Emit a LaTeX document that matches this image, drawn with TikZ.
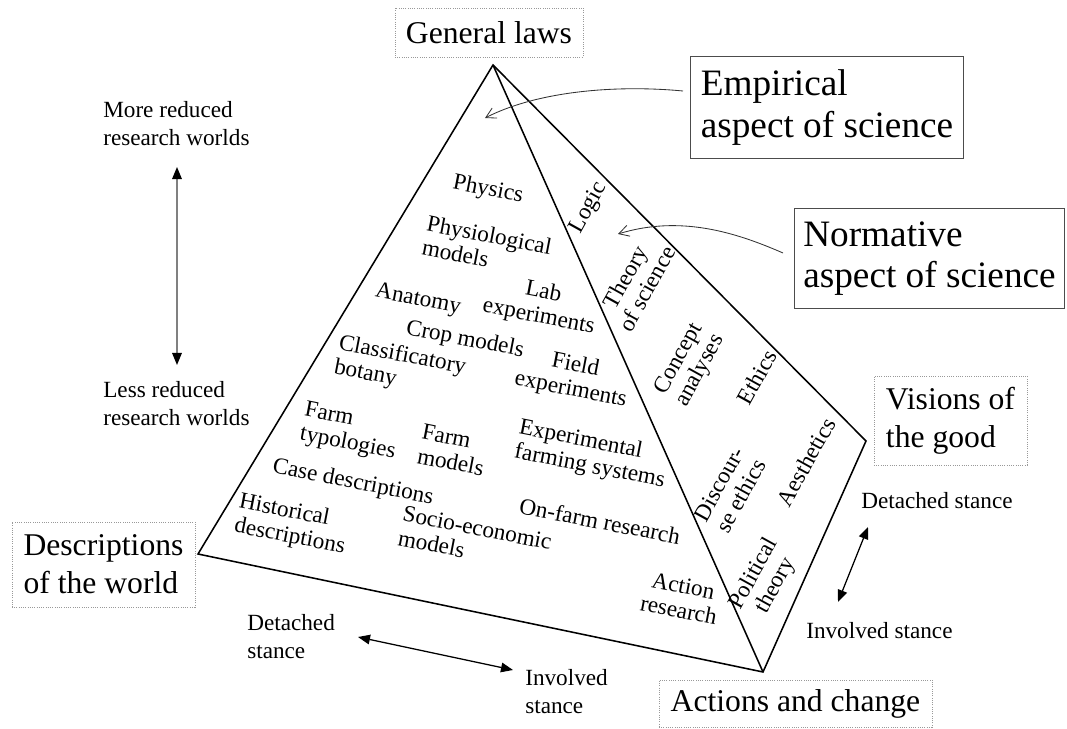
\documentclass[tikz,border=0pt]{standalone}
\usepackage{fontspec}
\setmainfont{Liberation Serif}
\usepackage{tikz}
\usetikzlibrary{arrows.meta,positioning,calc}
\tikzset{
    edge/.style={line width=1.1pt, line join=miter},
    corner/.style={draw=gray!80, densely dotted, line width=0.6pt, inner sep=0pt, align=left, font=\fontsize{22.5}{27}\selectfont},
    aspect/.style={draw=gray!60!black, line width=0.7pt, inner sep=0pt, align=left, font=\fontsize{26.5}{29.5}\selectfont},
    field/.style={rotate=-11, align=left, inner sep=0pt, font=\fontsize{16.5}{17.5}\selectfont},
    norm/.style={rotate=61, align=center, inner sep=0pt, font=\fontsize{16.5}{17.5}\selectfont},
    side/.style={align=left, inner sep=0pt, font=\fontsize{16.5}{20}\selectfont},
    stance/.style={{Triangle[length=3mm,width=2.4mm,color=black]}-{Triangle[length=3mm,width=2.4mm,color=black]}, line width=0.9pt},
    hint/.style={-{Straight Barb[length=2.5mm,width=2.8mm]}, gray!40!black, line width=0.6pt}
}

\begin{document}
\begin{tikzpicture}[x=0.025cm, y=-0.025cm]
    \useasboundingbox (0,0) rectangle (1067,729);

    % corners of the pyramid
    \coordinate (top) at (493,65);
    \coordinate (lft) at (198,554);
    \coordinate (front) at (763,672);
    \coordinate (rgt) at (866,441);
    \draw[edge] (lft) -- (top) -- (rgt) -- (front) -- cycle;
    \draw[edge] (top) -- (front);

    % the four poles
    \node[corner, minimum width=4.7cm, minimum height=1.225cm, align=center] (laws) at (489,32.5) {General laws};
    \node[corner, minimum width=4.575cm, minimum height=2.125cm] (world) at (103.5,564.5) {Descriptions\\of the world};
    \node[corner, minimum width=6.825cm, minimum height=1.175cm, align=center] (change) at (795.5,703.5) {Actions and change};
    \node[corner, minimum width=3.825cm, minimum height=2.225cm] (good) at (950.5,420.5) {Visions of\\the good};

    % the two aspects
    \node[aspect, minimum width=6.8cm, minimum height=2.525cm] (emp) at (827,107.5) {Empirical\\aspect of science};
    \node[aspect, minimum width=6.725cm, minimum height=2.475cm] (nor) at (929.5,258.5) {Normative\\aspect of science};
    \coordinate (emp1) at (683,91);
    \coordinate (emp2) at (485,118);
    \coordinate (nor1) at (783,253);
    \coordinate (nor2) at (618,234);
    \draw[hint] (emp1) .. controls (620,85) and (540,90) .. (emp2);
    \draw[hint] (nor1) .. controls (735,232) and (680,215) .. (nor2);

    % empirical face
    \node[field] (phys) at (488,190) {Physics};
    \node[field] (physio) at (487,247) {Physiological\\models};
    \node[field] (anat) at (418,300) {Anatomy};
    \node[field, align=center] (lab) at (541,305) {Lab\\experiments};
    \node[field] (crop) at (465,340) {Crop models};
    \node[field, align=center] (fieldexp) at (573,378) {Field\\experiments};
    \node[field] (botany) at (400,368) {Classificatory\\botany};
    \node[field] (typo) at (350,432) {Farm\\typologies};
    \node[field] (farmmod) at (453,450) {Farm\\models};
    \node[field] (expfarm) at (592,455) {Experimental\\farming systems};
    \node[field] (case) at (353,483) {Case descriptions};
    \node[field] (hist) at (292,525) {Historical\\descriptions};
    \node[field] (socio) at (475,540) {Socio-economic\\models};
    \node[field] (onfarm) at (600,521) {On-farm research};
    \node[field, align=center] (action) at (681,598) {Action\\research};

    % normative face
    \node[norm] (logic) at (589,208) {Logic};
    \node[norm] (theory) at (636,283) {Theory\\of science};
    \node[norm] (concept) at (690,365) {Concept\\analyses};
    \node[norm] (ethics) at (757,377) {Ethics};
    \node[norm] (discourse) at (730,490) {Discour-\\se ethics};
    \node[norm] (aesth) at (806,462) {Aesthetics};
    \node[norm] (polit) at (765,580) {Political\\theory};

    % scales
    \node[side, anchor=north west] (more) at (103,101) {More reduced\\research worlds};
    \node[side, anchor=north west] (less) at (103,381) {Less reduced\\research worlds};
    \coordinate (up) at (177,167);
    \coordinate (down) at (177,365);
    \draw[stance, gray] (up) -- (down);

    \node[side, anchor=north west] (det1) at (247,614) {Detached\\stance};
    \node[side, anchor=north west] (inv1) at (525,669) {Involved\\stance};
    \coordinate (d1) at (358,637);
    \coordinate (i1) at (513,670);
    \draw[stance] (d1) -- (i1);

    \node[side, anchor=north west] (det2) at (861,492) {Detached stance};
    \node[side, anchor=north west] (inv2) at (806,622) {Involved stance};
    \coordinate (d2) at (868,527);
    \coordinate (i2) at (838,602);
    \draw[stance] (d2) -- (i2);
\end{tikzpicture}
\end{document}
